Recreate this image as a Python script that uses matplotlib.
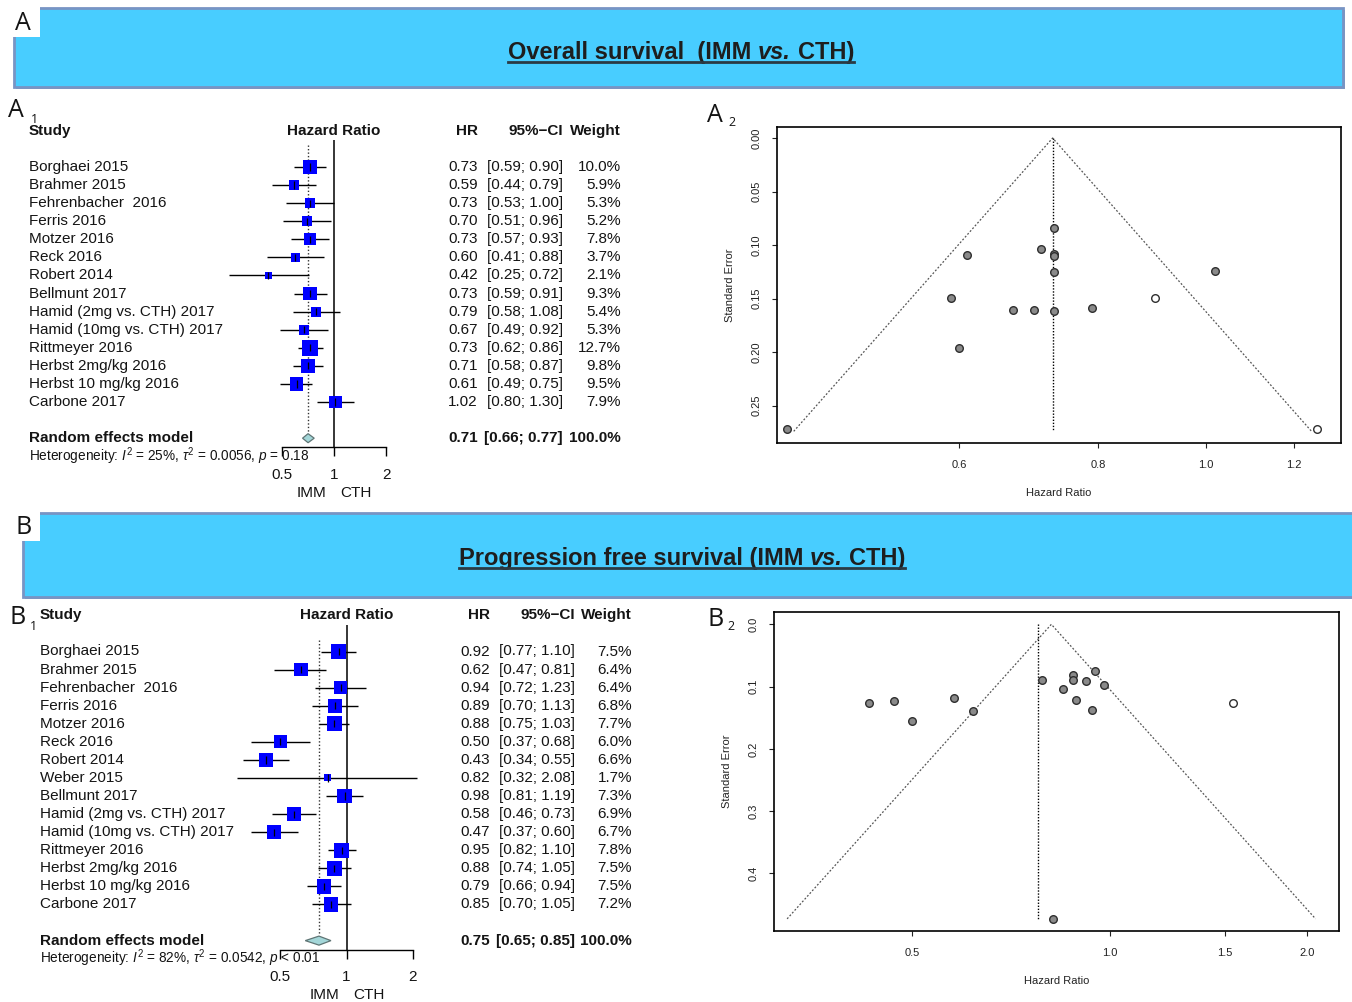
import numpy as np
import matplotlib
matplotlib.use("Agg")
import matplotlib.pyplot as plt
import matplotlib.transforms as mtransforms
from matplotlib.patches import Rectangle, Polygon
from matplotlib.ticker import NullLocator

plt.rcParams['font.family'] = ['Liberation Sans', 'DejaVu Sans']
plt.rcParams['mathtext.fontset'] = 'custom'
plt.rcParams['mathtext.rm'] = 'Liberation Sans'
plt.rcParams['mathtext.it'] = 'Liberation Sans:italic'
plt.rcParams['mathtext.bf'] = 'Liberation Sans:bold'

# ---- data: overall survival (A) ----
studies_a = ["Borghaei 2015", "Brahmer 2015", "Fehrenbacher  2016", "Ferris 2016", "Motzer 2016",
             "Reck 2016", "Robert 2014", "Bellmunt 2017", "Hamid (2mg vs. CTH) 2017",
             "Hamid (10mg vs. CTH) 2017", "Rittmeyer 2016", "Herbst 2mg/kg 2016",
             "Herbst 10 mg/kg 2016", "Carbone 2017"]
hr_a = [0.73, 0.59, 0.73, 0.70, 0.73, 0.60, 0.42, 0.73, 0.79, 0.67, 0.73, 0.71, 0.61, 1.02]
lo_a = [0.59, 0.44, 0.53, 0.51, 0.57, 0.41, 0.25, 0.59, 0.58, 0.49, 0.62, 0.58, 0.49, 0.80]
hi_a = [0.90, 0.79, 1.00, 0.96, 0.93, 0.88, 0.72, 0.91, 1.08, 0.92, 0.86, 0.87, 0.75, 1.30]
wt_a = [10.0, 5.9, 5.3, 5.2, 7.8, 3.7, 2.1, 9.3, 5.4, 5.3, 12.7, 9.8, 9.5, 7.9]
pooled_a = [0.71, 0.66, 0.77]
het_a = r'Heterogeneity: $I^2$ = 25%, $\tau^2$ = 0.0056, $p$ = 0.18'
# funnel A (standard errors)
se_a = [0.108, 0.149, 0.162, 0.161, 0.125, 0.196, 0.272, 0.110, 0.159, 0.161, 0.084, 0.104, 0.109, 0.124]
fill_hr_a = [0.90, 1.26]
fill_se_a = [0.149, 0.272]
center_a = 0.728
semax_a = 0.274

# ---- data: progression free survival (B) ----
studies_b = ["Borghaei 2015", "Brahmer 2015", "Fehrenbacher  2016", "Ferris 2016", "Motzer 2016",
             "Reck 2016", "Robert 2014", "Weber 2015", "Bellmunt 2017", "Hamid (2mg vs. CTH) 2017",
             "Hamid (10mg vs. CTH) 2017", "Rittmeyer 2016", "Herbst 2mg/kg 2016",
             "Herbst 10 mg/kg 2016", "Carbone 2017"]
hr_b = [0.92, 0.62, 0.94, 0.89, 0.88, 0.50, 0.43, 0.82, 0.98, 0.58, 0.47, 0.95, 0.88, 0.79, 0.85]
lo_b = [0.77, 0.47, 0.72, 0.70, 0.75, 0.37, 0.34, 0.32, 0.81, 0.46, 0.37, 0.82, 0.74, 0.66, 0.70]
hi_b = [1.10, 0.81, 1.23, 1.13, 1.03, 0.68, 0.55, 2.08, 1.19, 0.73, 0.60, 1.10, 1.05, 0.94, 1.05]
wt_b = [7.5, 6.4, 6.4, 6.8, 7.7, 6.0, 6.6, 1.7, 7.3, 6.9, 6.7, 7.8, 7.5, 7.5, 7.2]
pooled_b = [0.75, 0.65, 0.85]
het_b = r'Heterogeneity: $I^2$ = 82%, $\tau^2$ = 0.0542, $p$ < 0.01'
se_b = [0.091, 0.139, 0.137, 0.122, 0.081, 0.155, 0.126, 0.474, 0.098, 0.118, 0.123, 0.075, 0.089, 0.090, 0.104]
fill_hr_b = [1.54]
fill_se_b = [0.127]
center_b = 0.815
vline_b = 0.779
semax_b = 0.473

W, H = 1352, 1002
TXT = '#141414'
fig = plt.figure(figsize=(W / 100, H / 100), dpi=100)
bg = fig.add_axes([0, 0, 1, 1])
bg.set_xlim(0, W)
bg.set_ylim(H, 0)
bg.axis('off')
renderer = fig.canvas.get_renderer()


def box(x0, y0, x1, y1):
    return [x0 / W, 1 - y1 / H, (x1 - x0) / W, (y1 - y0) / H]


def banner(x0, y0, x1, y1, letter, lbox, lpos, pieces, cx, base):
    bg.add_patch(Rectangle((x0 + 2, y0 + 2), x1 - x0, y1 - y0, facecolor='#9aa6b8', edgecolor='none', zorder=1))
    bg.add_patch(Rectangle((x0, y0), x1 - x0, y1 - y0, facecolor='#48cdff', edgecolor='#7894c4', lw=2, zorder=2))
    bg.add_patch(Rectangle(lbox[:2], lbox[2], lbox[3], facecolor='white', edgecolor='none', zorder=3))
    bg.text(lpos[0], lpos[1], letter, fontsize=18, family='Open Sans', color=TXT, ha='center', va='center', zorder=4)
    texts = []
    for s, st in pieces:
        t = bg.text(0, base, s, fontsize=17, fontweight='bold', style=st, color='#1e1e1e',
                    ha='left', va='baseline', zorder=4)
        texts.append(t)
    widths = [t.get_window_extent(renderer).width for t in texts]
    gap = 6.6
    total = sum(widths) + gap * (len(texts) - 1)
    x = cx - total / 2
    for t, w in zip(texts, widths):
        t.set_x(x)
        x += w + gap
    bg.plot([cx - total / 2, cx + total / 2], [base + 3, base + 3], color='#2a3a44', lw=2, zorder=4)


banner(14, 8, 1343, 87, 'A', (10, 5, 30, 32), (23, 23),
       [('Overall survival  (IMM', 'normal'), ('vs.', 'italic'), ('CTH)', 'normal')], 681, 59)
banner(23, 513, 1360, 597, 'B', (19, 509, 21, 32), (24, 528),
       [('Progression free survival (IMM', 'normal'), ('vs.', 'italic'), ('CTH)', 'normal')], 682, 565)


def panel_label(x, y, letter, sub, dx, dy):
    bg.text(x, y, letter, fontsize=18, family='Open Sans', color=TXT, ha='left', va='center')
    bg.text(x + dx, y + dy, sub, fontsize=9, family='Open Sans', color=TXT, ha='left', va='center')


panel_label(8, 110, 'A', '1', 23, 9)
panel_label(707, 115, 'A', '2', 21, 7)
panel_label(9, 618, 'B', '1', 21, 9)
panel_label(708, 620, 'B', '2', 19, 6)


def forest(names, hr, lo, hi, wt, pooled, het, lab_x, x_one, ppl, y0, dy,
           hr_x, ci_x, wt_x, null_top, dot_top, smax):
    n = len(names)
    hr, lo, hi, wt = map(np.asarray, (hr, lo, hi, wt))
    r_pool, r_het, r_axis = n + 1, n + 2, n + 1.5
    r_tick, r_imm = n + 3.02, n + 4.02
    left, right = 160, 440
    top_row, bot_row = -3, n + 5
    ax = fig.add_axes(box(left, y0 + dy * top_row, right, y0 + dy * bot_row))
    ax.set_xscale('log')
    ax.set_xlim(np.exp((left - x_one) / ppl), np.exp((right - x_one) / ppl))
    ax.set_ylim(bot_row, top_row)
    ax.axis('off')
    rows = np.arange(n)

    ax.vlines(1, null_top, r_axis, color='k', lw=1.1)
    ax.vlines(pooled[0], dot_top, r_pool - 0.3, color='#333', lw=1, linestyles=(0, (1, 1.5)))
    ax.hlines(rows, lo, hi, color='k', lw=1, zorder=2)
    side_pt = smax * np.sqrt(wt / wt.max()) * 0.72
    ax.scatter(hr, rows, marker='s', s=side_pt ** 2, color='#0000ff', linewidths=0, zorder=3)
    ax.vlines(hr, rows - 0.2, rows + 0.2, color='k', lw=0.9, zorder=4)
    ax.add_patch(Polygon([(pooled[1], r_pool), (pooled[0], r_pool - 0.25),
                          (pooled[2], r_pool), (pooled[0], r_pool + 0.25)],
                         closed=True, facecolor='#a3d6d8', edgecolor='#5f7575', lw=0.9, zorder=3))
    ax.plot([0.5, 2], [r_axis, r_axis], color='k', lw=1)
    ax.vlines([0.5, 1, 2], r_axis, r_axis + 0.5, color='k', lw=1)
    for v, lab in zip([0.5, 1, 2], ['0.5', '1', '2']):
        ax.text(v, r_tick, lab, fontsize=11, color=TXT, ha='center', va='center')

    tr = mtransforms.blended_transform_factory(fig.transFigure, ax.transData)
    fs = 11
    ax.text((x_one - 22) / W, r_imm, 'IMM', transform=tr, fontsize=fs, color=TXT, ha='center', va='center')
    ax.text((x_one + 22) / W, r_imm, 'CTH', transform=tr, fontsize=fs, color=TXT, ha='center', va='center')
    hdr = dict(transform=tr, fontsize=fs, fontweight='bold', color=TXT, va='center')
    ax.text(lab_x / W, -2, 'Study', ha='left', **hdr)
    ax.text(x_one / W, -2, 'Hazard Ratio', ha='center', **hdr)
    ax.text(hr_x / W, -2, 'HR', ha='right', **hdr)
    ax.text(ci_x / W, -2, '95%\u2212CI', ha='right', **hdr)
    ax.text(wt_x / W, -2, 'Weight', ha='right', **hdr)
    row = dict(transform=tr, fontsize=fs, color=TXT, va='center')
    for i in range(n):
        ax.text(lab_x / W, i, names[i], ha='left', **row)
        ax.text(hr_x / W, i, f'{hr[i]:.2f}', ha='right', **row)
        ax.text(ci_x / W, i, f'[{lo[i]:.2f}; {hi[i]:.2f}]', ha='right', **row)
        ax.text(wt_x / W, i, f'{wt[i]:.1f}%', ha='right', **row)
    ax.text(lab_x / W, r_pool, 'Random effects model', ha='left', **hdr)
    ax.text(hr_x / W, r_pool, f'{pooled[0]:.2f}', ha='right', **hdr)
    ax.text(ci_x / W, r_pool, f'[{pooled[1]:.2f}; {pooled[2]:.2f}]', ha='right', **hdr)
    ax.text(wt_x / W, r_pool, '100.0%', ha='right', **hdr)
    ax.text(lab_x / W, r_het, het, transform=tr, fontsize=9.8, color=TXT, ha='left', va='center')


forest(studies_a, hr_a, lo_a, hi_a, wt_a, pooled_a, het_a, 29, 334, 75.7, 167, 18.08,
       478, 563, 621, -1.5, -1.2, 15.7)
forest(studies_b, hr_b, lo_b, hi_b, wt_b, pooled_b, het_b, 40, 346.5, 95.7, 651.5, 18.07,
       490, 575, 632, -1.47, -0.64, 15.0)


def funnel(bx, hr, se, fhr, fse, center, vline, semax, xlim, ylim, xt, xtl, yt, ytl):
    ax = fig.add_axes(box(*bx))
    ax.set_xscale('log')
    ax.plot([center * np.exp(-1.96 * semax), center, center * np.exp(1.96 * semax)],
            [semax, 0, semax], color='#555', lw=0.9, ls=(0, (1.5, 1.5)))
    ax.plot([vline, vline], [0, semax], color='k', lw=1, ls=(0, (1, 1.2)))
    ax.scatter(hr, se, s=30, facecolor='#8a8a8a', edgecolor='#2e2e2e', lw=1, zorder=3)
    ax.scatter(fhr, fse, s=30, facecolor='white', edgecolor='#2e2e2e', lw=1, zorder=3)
    ax.set_xlim(xlim)
    ax.set_ylim(ylim)
    ax.set_xticks(xt)
    ax.set_xticklabels(xtl)
    ax.xaxis.set_minor_locator(NullLocator())
    ax.set_yticks(yt)
    ax.set_yticklabels(ytl, rotation=90, va='center')
    ax.tick_params(axis='both', length=3.6, width=0.8, labelsize=8, colors='#222')
    ax.tick_params(axis='x', pad=8.5)
    ax.tick_params(axis='y', pad=7.5)
    ax.set_xlabel('Hazard Ratio', fontsize=8, color='#222', labelpad=13)
    ax.set_ylabel('Standard Error', fontsize=8, color='#222', labelpad=12)
    for sp in ax.spines.values():
        sp.set_linewidth(1.2)


funnel((777, 127, 1341, 443), hr_a, se_a, fill_hr_a, fill_se_a, center_a, center_a, semax_a,
       (0.411, 1.324), (0.2849, -0.0103), [0.6, 0.8, 1.0, 1.2], ['0.6', '0.8', '1.0', '1.2'],
       [0.0, 0.05, 0.10, 0.15, 0.20, 0.25], ['0.00', '0.05', '0.10', '0.15', '0.20', '0.25'])
funnel((774, 612, 1339, 931), hr_b, se_b, fill_hr_b, fill_se_b, center_b, vline_b, semax_b,
       (0.308, 2.236), (0.4925, -0.0198), [0.5, 1.0, 1.5, 2.0], ['0.5', '1.0', '1.5', '2.0'],
       [0.0, 0.1, 0.2, 0.3, 0.4], ['0.0', '0.1', '0.2', '0.3', '0.4'])

fig.savefig('out.png', dpi=100)
